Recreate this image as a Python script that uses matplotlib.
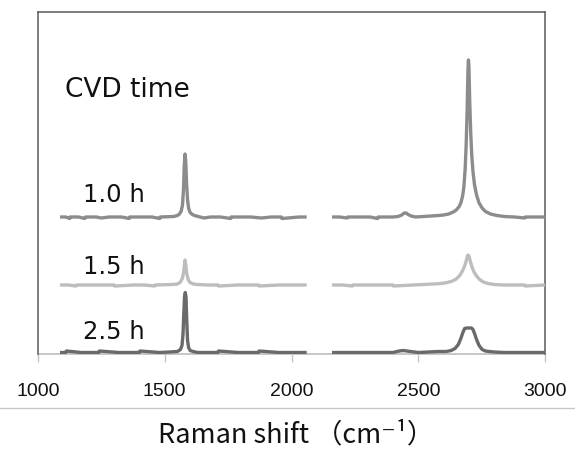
import numpy as np
import matplotlib
matplotlib.use("Agg")
import matplotlib.pyplot as plt
from matplotlib.lines import Line2D

# ---------------- data ----------------
labels = ["1.0 h", "1.5 h", "2.5 h"]
offsets = [137, 69, 1.5]          # vertical stacking offsets (arb. units)
colors = ["#8c8c8c", "#bdbdbd", "#6a6a6a"]

# 1.0 h
x_10_left = [1087, 1110, 1125, 1127, 1160, 1185, 1187, 1230, 1250, 1280, 1300, 1330, 1360, 1362,
             1420, 1450, 1480, 1482, 1535, 1550, 1558, 1565, 1570, 1574, 1577, 1580, 1583, 1586,
             1590, 1594, 1599, 1606, 1617, 1632, 1655, 1680, 1720, 1760, 1762, 1840, 1880,
             1920, 1960, 1962, 2030, 2060]
y_10_left = [0, 0, -1.5, 0, 0, -1.5, 0, 0, -1, 0, 0, 0, -1.5, 0,
             0, 0, -1.5, 0, 0.5, 1.5, 3, 6, 12, 28, 52, 63, 55, 34,
             17, 9, 5, 3, 1.5, 0.5, -1, 0, 0, -1.5, 0, 0, -1,
             0, 0, -1.5, 0, 0]
x_10_right = [2160, 2190, 2220, 2222, 2280, 2310, 2340, 2342, 2400, 2420, 2435, 2445, 2452,
              2460, 2472, 2490, 2520, 2550, 2580, 2600, 2620, 2638, 2650, 2660, 2668, 2675,
              2680, 2685, 2689, 2693, 2696, 2698, 2700, 2703, 2707, 2711, 2716, 2722, 2730,
              2740, 2752, 2765, 2785, 2810, 2840, 2880, 2920, 2922, 3000]
y_10_right = [0, 0, -1, 0, 0, 0, -1.5, 0, 0, 0.5, 2, 4, 4,
              2.5, 1, 0, 0.5, 1, 1.5, 2, 3, 5, 7, 10, 14, 21,
              30, 48, 72, 108, 146, 157, 150, 116, 84, 62, 45, 32, 22,
              14, 9, 5.5, 3, 1.5, 0.5, 0, -1, 0, 0]

# 1.5 h
x_15_left = [1087, 1120, 1150, 1152, 1220, 1260, 1300, 1302, 1380, 1420, 1460, 1462, 1530,
             1550, 1562, 1570, 1575, 1578, 1580, 1583, 1587, 1593, 1600, 1612, 1630, 1670,
             1710, 1712, 1790, 1830, 1870, 1872, 1950, 1990, 2030, 2060]
y_15_left = [0, 0, -1, 0, 0, 0, 0, -1, 0, 0, -1, 0, 0.5,
             1, 3, 7, 14, 21, 25, 20, 11, 5, 2.5, 1, 0.5, 0,
             0, -1, 0, 0, 0, -1, 0, 0, 0, 0]
x_15_right = [2160, 2200, 2240, 2242, 2320, 2360, 2400, 2402, 2480, 2520, 2560, 2590, 2615,
              2635, 2650, 2662, 2672, 2680, 2687, 2692, 2696, 2700, 2705, 2712, 2720, 2730,
              2742, 2757, 2775, 2800, 2840, 2880, 2920, 2922, 3000]
y_15_right = [0, 0, -1, 0, 0, 0, 0, -1, 0, 0.5, 1, 1.5, 2.5,
              4, 6, 9, 13, 17, 22, 27, 30, 29, 24, 18, 13, 9,
              5.5, 3, 1.5, 0.5, 0, 0, 0, -1, 0]

# 2.5 h
x_25_left = [1087, 1110, 1112, 1170, 1200, 1240, 1242, 1320, 1360, 1400, 1402, 1480, 1520,
             1550, 1562, 1568, 1572, 1575, 1578, 1581, 1584, 1587, 1590, 1594, 1600, 1612,
             1630, 1670, 1710, 1712, 1790, 1830, 1870, 1872, 1950, 1990, 2030, 2060]
y_25_left = [0, 0, 1.5, 0, 0, 0, 1.5, 0, 0, 0, 1.5, 0, 0.5,
             1, 3, 7, 18, 38, 56, 60, 55, 30, 12, 5, 2, 1,
             0, 0, 0, 1.5, 0, 0, 0, 1.5, 0, 0, 0, 0]
x_25_right = [2160, 2200, 2240, 2280, 2320, 2360, 2400, 2425, 2440, 2455, 2470, 2500, 2540,
              2580, 2610, 2630, 2645, 2658, 2668, 2676, 2683, 2690, 2700, 2710, 2716, 2722,
              2730, 2740, 2752, 2765, 2780, 2800, 2840, 2880, 2920, 2960, 3000]
y_25_right = [0, 0, 0, 0, 0, 0, 0, 1.5, 2, 1.5, 1, 0, 0.5,
              1, 1, 2, 4, 8, 14, 20, 24, 24.5, 24.5, 24.5, 23, 19,
              13, 7, 3, 1.5, 1, 0.5, 0, 0, 0, 0, 0]

spectra = [
    [(x_10_left, y_10_left), (x_10_right, y_10_right)],
    [(x_15_left, y_15_left), (x_15_right, y_15_right)],
    [(x_25_left, y_25_left), (x_25_right, y_25_right)],
]

xticks = [1000, 1500, 2000, 2500, 3000]
xtick_labels = ["1000", "1500", "2000", "2500", "3000"]

# ---------------- figure ----------------
fig = plt.figure(figsize=(5.75, 4.49), dpi=100)
ax = fig.add_axes([38 / 575, 1 - 354 / 449, (545 - 38) / 575, (354 - 12) / 449])

for segs, off, col in zip(spectra, offsets, colors):
    for xs, ys in segs:
        ax.plot(xs, np.asarray(ys) + off, color=col, lw=2.4, solid_joinstyle="round",
                solid_capstyle="butt", zorder=3)

ax.set_xlim(1000, 3000)
ax.set_ylim(0, 342)
ax.set_yticks([])
ax.set_xticks(xticks)
ax.set_xticklabels(xtick_labels, fontfamily="Liberation Sans", fontsize=14)
ax.tick_params(axis="x", direction="out", length=6, width=1.0, color="#c4c4c4", pad=15,
               labelcolor="#111111")

for side in ["left", "top", "right"]:
    ax.spines[side].set_color("#5a5a5a")
    ax.spines[side].set_linewidth(1.1)
ax.spines["bottom"].set_color("#b8b8b8")
ax.spines["bottom"].set_linewidth(1.1)
ax.spines["bottom"].set_zorder(1)

ax.text(0.053, 0.772, "CVD time", transform=ax.transAxes, fontsize=19, va="center",
        ha="left", color="#111111")
label_y = [0.465, 0.254, 0.064]
for lab, ly in zip(labels, label_y):
    ax.text(0.089, ly, lab, transform=ax.transAxes, fontsize=17.5, va="center", ha="left",
            color="#111111")

# separator line and axis title below
fig.add_artist(Line2D([0, 1], [1 - 408 / 449, 1 - 408 / 449], transform=fig.transFigure,
                      color="#c8c8c8", lw=1.0))
fig.text(296 / 575, 1 - 435 / 449, "Raman shift （cm⁻¹）", ha="center", va="center",
         fontsize=19.5, family=["Noto Sans CJK JP", "DejaVu Sans"], color="#111111")

fig.savefig("out.png", dpi=100)
